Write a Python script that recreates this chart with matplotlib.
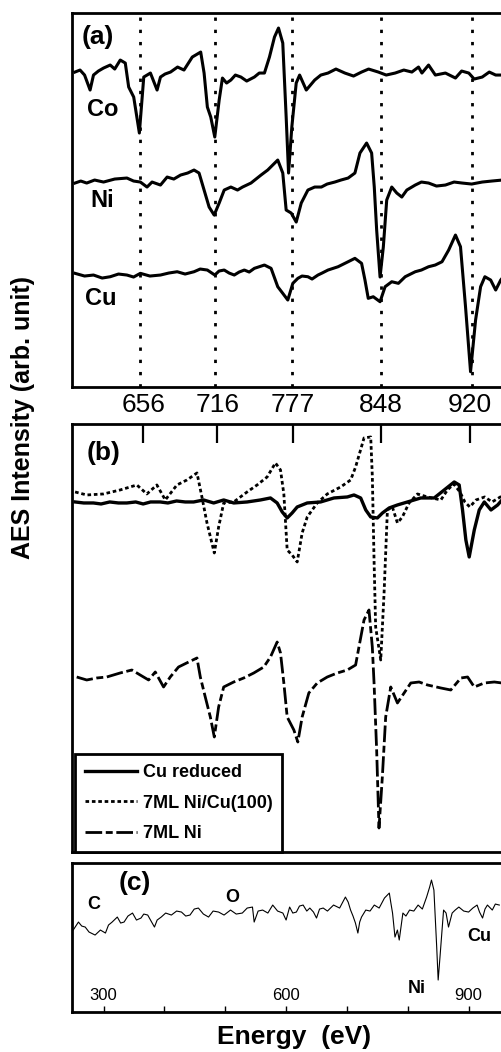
import numpy as np
import matplotlib
matplotlib.use("Agg")
import matplotlib.pyplot as plt

plt.rcParams['font.family'] = ['Liberation Sans', 'DejaVu Sans']

# ---- panel (a) : reference spectra Co, Ni, Cu ----
co_E = [604.4,608.4,612.0,616.4,619.1,623.0,627.1,632.4,636.0,640.4,644.4,647.1,651.1,655.6,659.1,664.4,669.7,
        672.4,676.0,680.4,686.0,691.1,697.7,704.4,707.1,709.7,712.4,715.6,719.1,721.7,725.0,728.4,732.0,736.4,
        741.0,747.1,751.0,755.1,759.1,763.1,766.3,769.7,772.4,774.3,776.9,780.4,783.1,788.4,795.1,800.0,805.7,
        812.0,819.1,826.0,832.4,838.0,845.7,852.0,859.1,866.0,872.4,877.7,880.4,885.7,891.1,899.1,907.1,912.0,
        917.7,922.0,928.4,934.0,939.1,944.4]
co_I = [315,317,312,297,312,316,319,322,318,327,324,300,290,254,310,314,297,
        310,313,315,320,317,330,335,314,280,270,250,287,309,304,307,312,310,
        306,310,314,314,330,350,359,344,270,214,260,304,312,297,307,312,314,
        318,314,311,315,318,315,312,314,317,315,320,314,322,312,314,309,316,
        314,308,310,315,312,312]

ni_E = [604.4,609.0,613.7,620.0,627.1,636.0,645.7,651.0,656.4,661.7,665.7,672.4,677.7,683.0,688.4,694.0,699.1,
        703.1,707.1,711.1,715.1,719.1,723.1,728.4,733.7,737.7,744.4,752.4,757.7,765.7,769.7,772.4,776.4,780.4,
        784.4,789.7,795.1,800.4,805.0,811.1,816.0,821.7,827.1,831.1,836.4,840.4,842.5,844.4,847.1,849.7,852.4,
        856.4,860.4,864.4,868.4,875.1,880.0,885.7,892.0,899.1,906.0,912.4,920.0,928.4,936.0,944.4]
ni_I = [204,206,204,207,205,208,209,206,205,200,205,202,210,208,212,214,217,
        214,197,180,172,184,197,200,197,200,204,212,217,227,214,177,174,165,
        184,197,200,200,203,205,207,209,214,234,244,234,200,157,110,140,187,
        200,194,190,197,202,205,204,201,202,205,204,203,205,206,207]

cu_E = [604.4,612.0,619.1,626.0,632.4,639.0,645.7,651.0,656.4,664.0,672.4,679.0,685.7,692.0,699.1,704.0,709.7,
        715.6,719.0,723.1,727.0,731.1,735.0,739.1,743.0,747.1,755.1,760.4,765.7,769.7,773.7,777.7,781.7,785.0,
        789.7,793.0,797.7,801.0,805.7,813.7,821.7,827.1,832.4,835.1,837.7,841.7,847.1,851.1,856.4,861.7,867.1,
        875.1,880.0,885.7,891.0,896.4,901.7,907.1,911.1,915.1,919.1,923.1,927.1,930.5,935.1,939.1,943.1,945.2]
cu_I = [113.7,111,112,109,110.3,113,112,110,113.7,111,112,114,115.3,113,115.3,118,117,
        112,116,117,114,112,115,117,115,118.7,122,118.7,100.3,93.7,87,103.7,108.7,111,
        110.3,108,112,114,117,120.3,125.3,128.7,123.7,107,88.7,90.3,85.3,100.3,105.3,103.7,110.3,
        115.3,117,120.3,122,125.3,137,152,140.3,80.3,15.3,67,100.3,110.3,107,97,107,110.3]

marks_E = [656, 716, 777, 848, 920]

# ---- panel (b) ----
red_E = [601,608,615.8,622,629,636,642.8,650,656,662,669.8,676,683,690,696.8,704.9,713,
         721.1,729.2,740,750.8,758.9,764.3,768.4,772.4,776.4,780.5,788.6,799.4,810.2,821,826.4,831.8,835.9,
         839.9,845.3,849.4,854.8,861.5,869.6,880.4,891.2,899.3,907.4,911.4,914.1,916.8,919.5,923.6,927.6,931.7,
         937.1,942.5,946]
red_I = [350,349,349,348,350,349,349,350,348,350,350,349,351,350,350,352,349,
         352,349,350,352,354,349,340,334,339,345,349,350,354,355,357,354,342,
         335,334,339,344,347,350,354,354,362,370,367,342,312,295,322,342,350,
         342,347,352]

nicu_E = [601,610.4,623.9,637.4,650.9,659,667.1,673.9,683.3,691.4,699.5,703.5,707.6,713.5,717,721.1,729.2,
          740,748.1,756.2,762.9,767,769.7,772.4,776.4,780.5,784.5,788.6,796.7,804.8,815.6,823.7,827.7,834.5,
          839.9,841.2,842.6,843.9,848,850.7,853.4,857.4,861.5,865.5,870.9,877.7,885.8,896.6,901.9,907,912,
          916,920,925,932,938,946]
nicu_I = [360,357,358,362,367,358,367,352,367,372,379,355,329,299,325,349,350,
          360,367,375,389,382,358,302,297,290,319,335,349,358,365,372,385,414,
          415,376,292,225,192,259,342,345,329,335,349,358,355,352,362,368,360,
          350,345,352,355,350,356]

ni7_E = [602.3,610.4,618.5,626.6,637.4,646.9,653.6,660.4,665.8,672.5,677.9,684.6,692.8,699.5,702.2,706.2,710.3,
         713.5,717,721.1,729.2,737.3,745.4,753.5,758.9,764.3,767,769.7,772.4,777.8,781,784.5,789.9,796.7,
         804.8,812.9,821,827.7,830.4,834.5,838.5,841.2,842.6,844.7,846.6,849.3,852,856.1,861.5,866.9,872.3,
         879,885.8,896.6,904.6,912.8,918.2,923.6,931.7,939.8,946]
ni7_I = [175,172,174,175,179,182,177,172,180,165,175,185,190,194,175,155,135,
         115,145,165,170,174,179,185,195,210,199,169,135,122,110,135,159,169,
         175,179,182,187,205,232,242,205,169,102,24,75,135,165,149,159,169,
         170,167,164,162,174,175,165,169,170,169]

# ---- panel (c) : wide survey ----
wide_E = [250,258.6,264,269.7,276,286,294.7,303,308,314,322.5,328,333.6,340,347.5,354,361.4,366,372.5,378,
          383.6,388,394.7,402,411.4,420,428,435,442,449,455.8,464,472.5,480,489,498,508.6,518,528,536,
          544.7,547.5,554,561.4,570,578,586,594.7,600,605.8,611,616.9,622,628,634,639,645,650,655,661,
          668,678,688,697.5,702,706,710,714,718,721,724,731,738,745,753,761.7,769.7,772,775,779,
          783,786,792,797,803,810,817,824,831,836,839,843,847.6,850,853,858.9,863,867,873,878,
          884,892,900,907,914,918,923,927,931,939,944,950.5]
wide_I = [82,90,86,85,80,77,82,79,87,90,95,89,90,96,99,92,94,98,97,91,
          85,92,95,99,97,101,100,96,97,103,104,98,95,101,100,97,102,98,99,104,
          105,90,101,102,99,107,101,99,92,105,99,100,106,107,101,104,100,94,103,104,
          101,107,104,115,110,102,96,89,79,90,95,102,101,107,104,114,119,110,99,75,
          82,72,99,96,102,101,107,103,115,125,132,122,65,32,55,102,99,85,99,102,
          105,101,100,104,107,100,94,103,107,102,108,107]
wide_ticks = [300, 600, 900]

vline_dots = (0, (1.2, 3.2))
curve_dots = (0, (1.3, 1.0))
dashed = (0, (6, 1.3, 2.5, 1.3))

fig = plt.figure(figsize=(5.01, 10.52), dpi=100)

def frame(ax):
    for s in ax.spines.values():
        s.set_linewidth(2)
    ax.spines['right'].set_visible(False)

# (a)
ax = fig.add_axes([0.1437, 0.6321, 0.862, 0.3555])
frame(ax)
for e in marks_E:
    ax.axvline(e, color='black', lw=2, ls=vline_dots)
ax.plot(co_E, co_I, color='black', lw=2.2)
ax.plot(ni_E, ni_I, color='black', lw=2.2)
ax.plot(cu_E, cu_I, color='black', lw=2.2)
ax.set_xlim(602, 945.6)
ax.set_ylim(0, 374)
ax.set_xticks([])
ax.set_yticks([])
ax.text(0.023, 0.936, '(a)', transform=ax.transAxes, fontsize=19, fontweight='bold', va='center')
ax.text(0.035, 0.743, 'Co', transform=ax.transAxes, fontsize=17, fontweight='bold', va='center')
ax.text(0.042, 0.50, 'Ni', transform=ax.transAxes, fontsize=17, fontweight='bold', va='center')
ax.text(0.030, 0.238, 'Cu', transform=ax.transAxes, fontsize=17, fontweight='bold', va='center')

# (b)
ax = fig.add_axes([0.1437, 0.1901, 0.862, 0.4069])
frame(ax)
ax.plot(nicu_E, nicu_I, color='black', lw=2, ls=curve_dots, label='7ML Ni/Cu(100)')
ax.plot(ni7_E, ni7_I, color='black', lw=2, ls=dashed, label='7ML Ni')
ax.plot(red_E, red_I, color='black', lw=2.4, label='Cu reduced')
ax.set_xlim(598.5, 947.5)
ax.set_ylim(0, 428)
ax.set_yticks([])
ax.xaxis.tick_top()
ax.set_xticks(marks_E)
ax.set_xticklabels([str(e) for e in marks_E])
ax.tick_params(axis='x', direction='in', length=14, width=1.6, labelsize=19, pad=5)
ax.text(0.035, 0.932, '(b)', transform=ax.transAxes, fontsize=19, fontweight='bold', va='center')
h, l = ax.get_legend_handles_labels()
leg = ax.legend([h[2], h[0], h[1]], [l[2], l[0], l[1]], loc='lower left', bbox_to_anchor=(0.007, 0.0),
                borderaxespad=0, fancybox=False, edgecolor='black', framealpha=1,
                prop={'weight': 'bold', 'size': 13}, handlelength=2.9, handletextpad=0.3,
                labelspacing=0.75, borderpad=0.55)
leg.get_frame().set_linewidth(2)

# (c)
ax = fig.add_axes([0.1437, 0.0380, 0.862, 0.1416])
frame(ax)
ax.plot(wide_E, wide_I, color='black', lw=0.8)
ax.set_xlim(248, 958)
ax.set_ylim(0, 149)
ax.set_yticks([])
ax.set_xticks(wide_ticks)
ax.set_xticks([400, 500, 700, 800], minor=True)
ax.tick_params(axis='x', which='both', direction='in', length=4, width=1, labelsize=12, pad=-17)
ax.text(0.107, 0.866, '(c)', transform=ax.transAxes, fontsize=19, fontweight='bold', va='center')
ax.text(0.035, 0.725, 'C', transform=ax.transAxes, fontsize=13, fontweight='bold', va='center')
ax.text(0.355, 0.772, 'O', transform=ax.transAxes, fontsize=13, fontweight='bold', va='center')
ax.text(0.916, 0.51, 'Cu', transform=ax.transAxes, fontsize=13, fontweight='bold', va='center')
ax.text(0.777, 0.16, 'Ni', transform=ax.transAxes, fontsize=13, fontweight='bold', va='center')

fig.text(0.046, 0.6027, 'AES Intensity (arb. unit)', rotation=90, fontsize=18, fontweight='bold',
         ha='center', va='center')
fig.text(0.587, 0.0143, 'Energy  (eV)', fontsize=19, fontweight='bold', ha='center', va='center')

fig.savefig('out.png', dpi=100)
